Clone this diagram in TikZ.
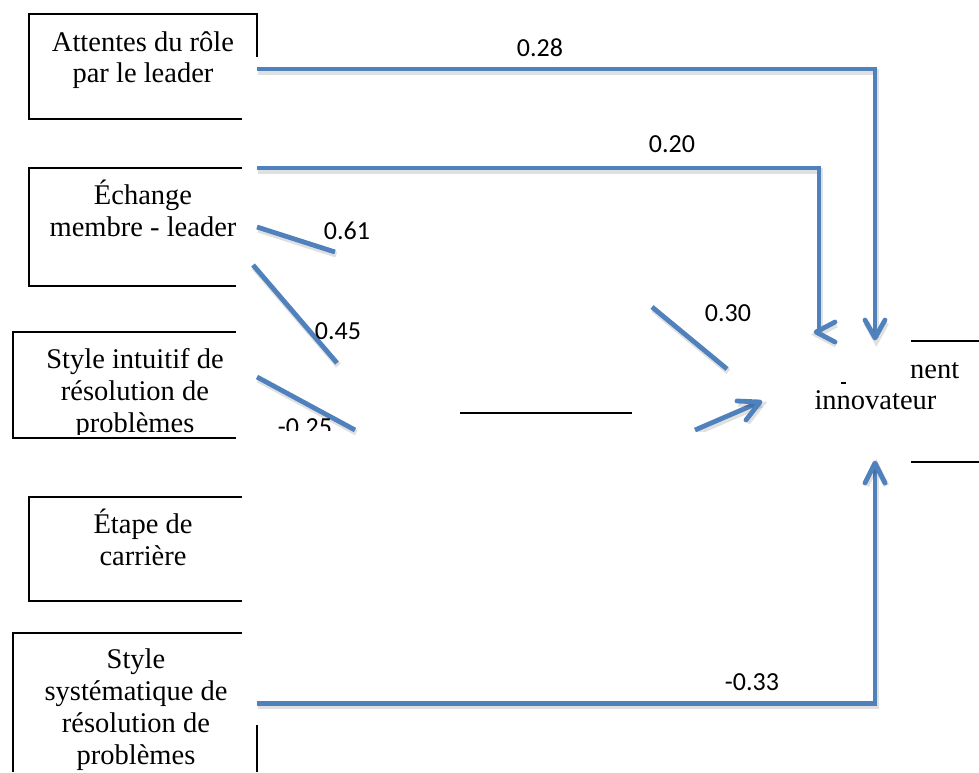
\documentclass[tikz,border=0pt]{standalone}
\usepackage{fontspec}
\setmainfont{Liberation Serif}
\newfontfamily\coeffont{Carlito}
\definecolor{wireblue}{HTML}{4F81BD}
\begin{document}
\begin{tikzpicture}[x=1pt,y=-1pt,
  frame/.style={draw=black, line width=2.8pt, line join=miter, line cap=butt},
  wire/.style={preaction={draw=black, opacity=0.12, line width=6pt,
      transform canvas={shift={(1.3pt,-2.6pt)}}},
    draw=wireblue, line width=4.8pt, line join=miter, line cap=butt},
  head/.style={wire, line cap=round, line join=round},
  boxtext/.style={font=\fontsize{28.5}{32}\selectfont, anchor=base, inner sep=0pt},
  coef/.style={font=\coeffont\fontsize{26}{30}\selectfont, inner sep=0pt, anchor=center}]

\useasboundingbox (0,0) rectangle (979,772);

% ---- variable boxes (open frames) ----
\draw[frame] (242,119) -- (29,119) -- (29,14) -- (257,14) -- (257,57);
\draw[frame] (242,168) -- (29,168) -- (29,286) -- (236,286);
\draw[frame] (236,332) -- (13,332) -- (13,438) -- (236,438);
\draw[frame] (242,497) -- (29,497) -- (29,601) -- (242,601);
\draw[frame] (242,633) -- (13,633) -- (13,772);
\draw[frame] (257,725) -- (257,772);
% mediator and outcome frame pieces
\draw[frame] (460,413) -- (632,413);
\draw[frame] (911,341) -- (979,341);
\draw[frame] (911,462) -- (979,462);

% ---- box texts ----
\node[boxtext] (t1a) at (143,51) {Attentes du rôle};
\node[boxtext] (t1b) at (143,82) {par le leader};
\node[boxtext] (t2a) at (143,204) {Échange};
\node[boxtext] (t2b) at (143,236) {membre - leader};
\node[boxtext] (t3a) at (135,368) {Style intuitif de};
\node[boxtext] (t3b) at (135,400) {résolution de};
\begin{scope}
  \clip (0,0) rectangle (979,434);
  \node[boxtext] (t3c) at (135,432) {problèmes};
\end{scope}
\node[boxtext] (t4a) at (143,533) {Étape de};
\node[boxtext] (t4b) at (143,565) {carrière};
\node[boxtext] (t5a) at (136,668) {Style};
\node[boxtext] (t5b) at (136,700) {systématique de};
\node[boxtext] (t5c) at (136,732) {résolution de};
\node[boxtext] (t5d) at (136,764) {problèmes};
\node[boxtext, anchor=base west] (o1) at (910,378) {nent};
\node[boxtext] (o2) at (875.5,409) {innovateur};
\draw[line width=1.5pt] (841,383) -- (846,383);

% ---- path coordinates ----
\coordinate (aS) at (257,69);   \coordinate (aC) at (875,69);   \coordinate (aE) at (875,335);
\coordinate (bS) at (257,168);  \coordinate (bC) at (819,168);  \coordinate (bE) at (819,333);
\coordinate (cS) at (257,227);  \coordinate (cE) at (335,252);
\coordinate (dS) at (253,265);  \coordinate (dE) at (337,363);
\coordinate (eS) at (257,377);  \coordinate (eE) at (355,430);
\coordinate (fS) at (652,307);  \coordinate (fE) at (727,369);
\coordinate (gS) at (695,430);  \coordinate (gE) at (760,402);
\coordinate (hS) at (257,703.5);\coordinate (hC) at (875,703.5);\coordinate (hE) at (875,466);

% ---- blue connectors ----
\draw[wire] (aS) -- (aC) -- (aE);
\draw[head] (865,320) -- (875,338) -- (885,320);
\draw[wire] (bS) -- (bC) -- (bE);
\draw[head] (835,322) -- (816,332) -- (835,342);
\draw[wire] (cS) -- (cE);
\draw[wire] (dS) -- (dE);
\draw[wire] (eS) -- (eE);
\draw[wire] (fS) -- (fE);
\begin{scope}
  \clip (0,0) rectangle (979,431);
  \draw[wire] (gS) -- (gE);
  \draw[head] (737,401) -- (gE) -- (746,420);
\end{scope}
\draw[wire] (hS) -- (hC) -- (hE);
\draw[head] (865,483) -- (875,463) -- (885,483);

% ---- coefficients ----
\node[coef] (k1) at (540,48) {0.28};
\node[coef] (k2) at (672,144) {0.20};
\node[coef] (k3) at (347,231) {0.61};
\node[coef] (k4) at (338,331) {0.45};
\node[coef] (k5) at (728,313) {0.30};
\begin{scope}
  \clip (0,0) rectangle (979,430);
  \node[coef] (k6) at (305,427) {-0.25};
\end{scope}
\node[coef] (k7) at (752,682) {-0.33};
\end{tikzpicture}
\end{document}
